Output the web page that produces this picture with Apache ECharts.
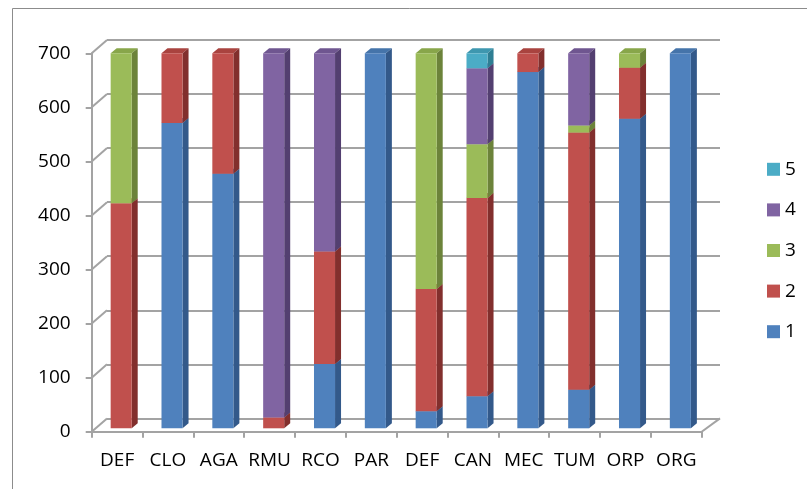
<!DOCTYPE html>
<html><head><meta charset="utf-8">
<script src="https://cdn.jsdelivr.net/npm/echarts@6/dist/echarts.min.js"></script>
<style>html,body{margin:0;padding:0;background:#fff}#c{width:807px;height:489px}</style>
</head><body><div id="c"></div>
<script>
const categories = ['DEF','CLO','AGA','RMU','RCO','PAR','DEF','CAN','MEC','TUM','ORP','ORG'];
const s1 = [0, 570, 475, 0, 120, 700, 32, 60, 665, 72, 578, 700];
const s2 = [420, 130, 225, 20, 210, 0, 228, 370, 35, 480, 95, 0];
const s3 = [280, 0, 0, 0, 0, 0, 440, 100, 0, 13, 27, 0];
const s4 = [0, 0, 0, 680, 370, 0, 0, 142, 0, 135, 0, 0];
const s5 = [0, 0, 0, 0, 0, 0, 0, 28, 0, 0, 0, 0];
const seriesNames = ['1','2','3','4','5'];
const yTicks = [0,100,200,300,400,500,600,700];

const seriesValues = [s1,s2,s3,s4,s5];
const frontColors = ['#4F81BD','#C0504D','#9BBB59','#8064A2','#4BACC6'];
const sideColors  = ['#33598A','#822F2D','#6C833A','#533F70','#2E7E93'];
const topColors   = ['#4574AA','#A9433F','#88A64A','#6F5690','#3E97AF'];
const FONT = 'Open Sans';
const FS = 19;
const gridColor = '#a3a3a3';

function barRender(si){
  return function(params, api){
    const i = api.value(0), v = api.value(1);
    if (!v) return null;
    let base = 0;
    for (let k = 0; k < si; k++) base += seriesValues[k][i];
    const pb = api.coord([i, base]);
    const pt = api.coord([i, base + v]);
    const band = api.size([1, 0])[0];
    const cx = pb[0] + band * 0.08, hw = band * 0.207;
    const L = cx - hw, R = cx + hw, dx = 6, dy = -5;
    return {type:'group', children:[
      {type:'polygon', shape:{points:[[L,pt[1]],[R,pt[1]],[R+dx,pt[1]+dy],[L+dx,pt[1]+dy]]}, style:{fill:topColors[si]}},
      {type:'polygon', shape:{points:[[R,pt[1]],[R+dx,pt[1]+dy],[R+dx,pb[1]+dy],[R,pb[1]]]}, style:{fill:sideColors[si]}},
      {type:'rect', shape:{x:L, y:pt[1], width:R-L, height:pb[1]-pt[1]}, style:{fill:frontColors[si]}}
    ]};
  };
}

function wallRender(params, api){
  const v = api.value(1);
  const p = api.coord([0, v]);
  const band = api.size([1, 0])[0];
  const x0 = p[0] - band / 2;
  const ch = [{type:'line', shape:{x1:x0, y1:p[1], x2:x0+15.3, y2:p[1]-13.3}, style:{stroke:gridColor, lineWidth:2}}];
  if (v === 0) {
    const x1 = x0 + band * categories.length;
    ch.push({type:'line', shape:{x1:x1, y1:p[1], x2:x1+18.3, y2:p[1]-13.3}, style:{stroke:gridColor, lineWidth:2}});
  }
  return {type:'group', children: ch};
}

const series = [{
  type:'custom', xAxisIndex:0, yAxisIndex:0, silent:true, z:1,
  data: yTicks.map(t => [0, t]), encode:{x:0, y:1}, renderItem: wallRender
}];
seriesNames.forEach((n, si) => {
  series.push({
    name:n, type:'custom', xAxisIndex:2, yAxisIndex:2, z:3,
    itemStyle:{color:frontColors[si]},
    data: categories.map((c, i) => [i, seriesValues[si][i]]),
    encode:{x:0, y:1},
    renderItem: barRender(si)
  });
});

const chart = echarts.init(document.getElementById('c'), null, {renderer:'canvas'});
chart.setOption({
  animation:false,
  backgroundColor:'#fff',
  textStyle:{fontFamily:FONT},
  graphic:[
    {type:'line', shape:{x1:12.5, y1:8.5, x2:807, y2:8.5}, style:{stroke:'#8c8c8c', lineWidth:1}},
    {type:'line', shape:{x1:12.5, y1:8.5, x2:12.5, y2:489}, style:{stroke:'#8c8c8c', lineWidth:1}}
  ],
  grid:[
    {left:91.7, top:53.3, width:610, height:378.4},
    {left:107, top:40, width:613, height:378.4},
    {left:91.7, top:53.3, width:610, height:375}
  ],
  xAxis:[
    {gridIndex:0, type:'category', data:categories, boundaryGap:true,
     axisLine:{lineStyle:{color:gridColor, width:2}},
     axisTick:{show:true, interval:0, length:6, lineStyle:{color:gridColor, width:2}},
     axisLabel:{interval:0, margin:19, color:'#000', fontSize:FS, fontFamily:FONT}},
    {gridIndex:1, type:'category', data:categories, show:false},
    {gridIndex:2, type:'category', data:categories, show:false}
  ],
  yAxis:[
    {gridIndex:0, type:'value', min:0, max:700, interval:100,
     axisLine:{show:true, lineStyle:{color:gridColor, width:2}},
     axisTick:{show:true, length:6, lineStyle:{color:gridColor, width:2}},
     splitLine:{show:false},
     axisLabel:{margin:21, color:'#000', fontSize:FS, fontFamily:FONT}},
    {gridIndex:1, type:'value', min:0, max:700, interval:100,
     axisLine:{show:false}, axisTick:{show:false}, axisLabel:{show:false},
     splitLine:{show:true, showMinLine:true, showMaxLine:true, lineStyle:{color:gridColor, width:2}}},
    {gridIndex:2, type:'value', min:0, max:700, interval:100, show:false}
  ],
  legend:{
    orient:'vertical', left:767, top:159.3, icon:'rect',
    itemWidth:13, itemHeight:13, itemGap:20.6, padding:0,
    data:['5','4','3','2','1'],
    textStyle:{color:'#000', fontSize:FS, lineHeight:20, fontFamily:FONT}
  },
  series: series
});
</script>
</body></html>
